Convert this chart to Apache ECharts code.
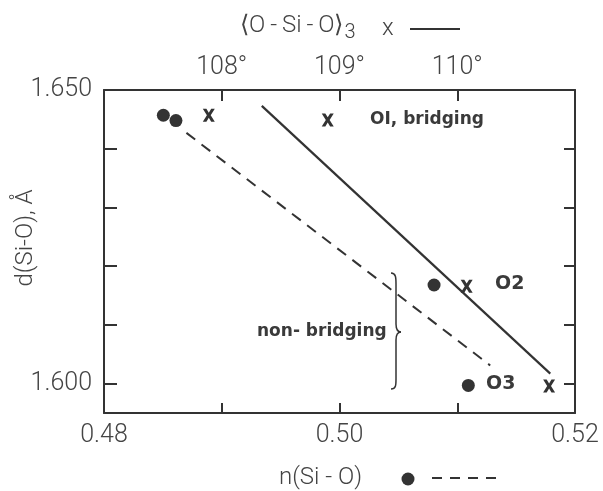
<!DOCTYPE html>
<html><head><meta charset="utf-8">
<script src="https://cdn.jsdelivr.net/npm/echarts@6/dist/echarts.min.js"></script>
<style>html,body{margin:0;padding:0;background:#fff}#c{width:603px;height:491px}</style>
</head><body><div id="c"></div>
<script>
// n(Si-O) values (bottom axis) for filled dots, with d(Si-O) in Å
const dotN = [0.48504, 0.48611, 0.50803, 0.51094];
const dotD = [1.6457, 1.6448, 1.6168, 1.5997];
// <O-Si-O>3 angles (top axis) for X marks, with d(Si-O)
const crossAngle = [107.89, 108.90, 110.08, 110.78];
const crossD = [1.6457, 1.6449, 1.6166, 1.5996];
// solid regression line (angle axis)
const solidAngle = [108.34, 110.79];
const solidD = [1.6473, 1.6017];
// dashed regression line (n axis)
const dashN = [0.4870, 0.5128];
const dashD = [1.6427, 1.6031];
// tick values
const nTicks = [0.49, 0.50, 0.51];
const nLabels = [0.48, 0.50, 0.52];
const angleTicks = [108, 109, 110];
const dTicks = [1.60, 1.61, 1.62, 1.63, 1.64, 1.65];
const dLabels = [1.60, 1.65];

const INK = '#333';
const LIGHT = {fontFamily: 'Roboto', fontWeight: 300, color: '#444', fontSize: 25};
const xShape = 'path://M0,0 L3,0 L5,3.6 L7,0 L10,0 L6.6,6 L10,12 L7,12 L5,8.4 L3,12 L0,12 L3.4,6 Z';

const chart = echarts.init(document.getElementById('c'), null, {renderer: 'canvas'});
const axisLine = {show: true, lineStyle: {color: INK, width: 2}};
const braceStyle = {stroke: INK, lineWidth: 1.5, fill: 'none'};
chart.setOption({
  animation: false,
  backgroundColor: '#fff',
  grid: {left: 104, right: 28, top: 90, bottom: 78, containLabel: false, outerBoundsMode: 'none'},
  xAxis: [
    {type: 'value', position: 'bottom', min: 0.48, max: 0.52, axisLine,
     splitLine: {show: false},
     axisTick: {show: true, inside: true, length: 10, customValues: nTicks, lineStyle: {color: INK, width: 2}},
     axisLabel: Object.assign({customValues: nLabels, margin: 10, formatter: v => v.toFixed(2)}, LIGHT)},
    {type: 'value', position: 'top', min: 107, max: 111, axisLine,
     splitLine: {show: false},
     axisTick: {show: true, inside: true, length: 11, customValues: angleTicks, lineStyle: {color: INK, width: 2}},
     axisLabel: Object.assign({customValues: angleTicks, margin: 10, formatter: v => v + '°'}, LIGHT)}
  ],
  yAxis: [
    {type: 'value', position: 'left', min: 1.595, max: 1.650, axisLine,
     splitLine: {show: false},
     axisTick: {show: true, inside: true, length: 13, customValues: dTicks, lineStyle: {color: INK, width: 2}},
     axisLabel: Object.assign({customValues: dLabels, margin: 12, formatter: v => v.toFixed(3)}, LIGHT)},
    {type: 'value', position: 'right', min: 1.595, max: 1.650, axisLine,
     splitLine: {show: false},
     axisTick: {show: true, inside: true, length: 11, customValues: dTicks, lineStyle: {color: INK, width: 2}},
     axisLabel: {show: false}}
  ],
  series: [
    {type: 'line', xAxisIndex: 1, yAxisIndex: 0, symbol: 'none',
     data: solidAngle.map((a, i) => [a, solidD[i]]),
     lineStyle: {color: INK, width: 2.2}},
    {type: 'line', xAxisIndex: 0, yAxisIndex: 0, symbol: 'none',
     data: dashN.map((n, i) => [n, dashD[i]]),
     lineStyle: {color: INK, width: 2, type: [11, 8]}},
    {type: 'scatter', xAxisIndex: 0, yAxisIndex: 0, symbol: 'circle', symbolSize: 13,
     data: dotN.map((n, i) => [n, dotD[i]]), itemStyle: {color: INK, opacity: 1}},
    {type: 'scatter', xAxisIndex: 1, yAxisIndex: 0, symbol: xShape, symbolSize: [12, 13],
     data: crossAngle.map((a, i) => [a, crossD[i]]), itemStyle: {color: INK, opacity: 1}}
  ],
  graphic: [
    // y axis title
    {type: 'text', x: 26, y: 238, rotation: Math.PI / 2,
     style: {text: 'd(Si-O), Å', font: '300 24px Roboto', fill: '#444', align: 'center', verticalAlign: 'middle'}},
    // top axis title
    {type: 'text', left: 240, top: 14, style: {
      text: '{a|⟨O\u2009-\u2009Si\u2009-\u2009O⟩}{s|3}',
      rich: {a: {fontFamily: 'Roboto', fontWeight: 300, fontSize: 24, fill: '#444'},
             s: {fontFamily: 'Roboto', fontWeight: 300, fontSize: 20, fill: '#444', padding: [14, 0, 0, 1]}}}},
    {type: 'text', left: 382, top: 17, style: {text: 'x', font: '300 24px Roboto', fill: '#444'}},
    {type: 'line', shape: {x1: 410, y1: 29, x2: 460, y2: 29}, style: {stroke: INK, lineWidth: 2}},
    // bottom axis title
    {type: 'text', left: 279, top: 466, style: {text: 'n(Si - O)', font: '300 24px Roboto', fill: '#444'}},
    {type: 'circle', shape: {cx: 408, cy: 479, r: 6.5}, style: {fill: INK}},
    {type: 'line', shape: {x1: 432, y1: 478, x2: 498, y2: 478}, style: {stroke: INK, lineWidth: 2, lineDash: [10, 8]}},
    // annotations
    {type: 'text', left: 370, top: 111, style: {text: 'OI, bridging', font: 'bold 17px "DejaVu Sans"', fill: '#3a3a3a'}},
    {type: 'text', left: 495, top: 275, style: {text: 'O2', font: 'bold 19px "DejaVu Sans"', fill: '#3a3a3a'}},
    {type: 'text', left: 486, top: 375, style: {text: 'O3', font: 'bold 19px "DejaVu Sans"', fill: '#3a3a3a'}},
    {type: 'text', left: 257, top: 323, style: {text: 'non- bridging', font: 'bold 17px "DejaVu Sans"', fill: '#3a3a3a'}},
    // brace
    {type: 'bezierCurve', shape: {x1: 391, y1: 273, cpx1: 396, cpy1: 273, cpx2: 396, cpy2: 278, x2: 396, y2: 284}, style: braceStyle},
    {type: 'line', shape: {x1: 396, y1: 284, x2: 396, y2: 324}, style: braceStyle},
    {type: 'bezierCurve', shape: {x1: 396, y1: 324, cpx1: 396, cpy1: 330, cpx2: 398, cpy2: 332, x2: 401, y2: 332}, style: braceStyle},
    {type: 'bezierCurve', shape: {x1: 401, y1: 332, cpx1: 398, cpy1: 332, cpx2: 396, cpy2: 334, x2: 396, y2: 340}, style: braceStyle},
    {type: 'line', shape: {x1: 396, y1: 340, x2: 396, y2: 379}, style: braceStyle},
    {type: 'bezierCurve', shape: {x1: 396, y1: 379, cpx1: 396, cpy1: 385, cpx2: 396, cpy2: 389, x2: 391, y2: 389}, style: braceStyle}
  ]
});
</script></body></html>
